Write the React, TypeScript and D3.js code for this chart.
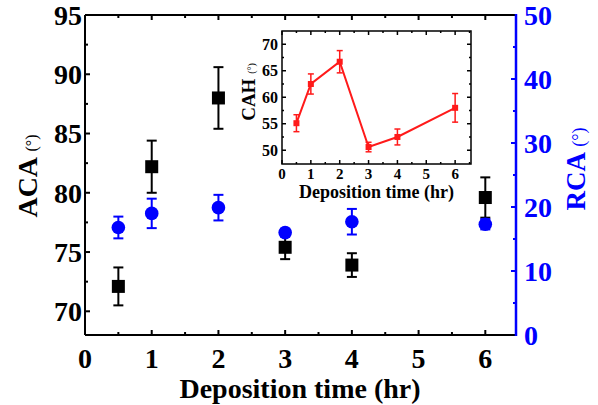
import React from "react";
import * as d3 from "d3";

const times = [0.5, 1, 2, 3, 4, 6];
const aca = [72.1, 82.2, 88.0, 75.4, 73.9, 79.6];
const acaErr = [1.6, 2.2, 2.6, 1.0, 1.0, 1.7];
const rca = [16.8, 19.0, 19.9, 16.0, 17.7, 17.3];
const rcaErr = [1.7, 2.3, 2.0, 0.6, 2.0, 0.8];
const cah = [55.1, 62.5, 66.7, 50.6, 52.5, 58.0];
const cahErr = [1.6, 1.9, 2.1, 0.9, 1.5, 2.7];

const xTicks = [0, 1, 2, 3, 4, 5, 6];
const acaTicks = [70, 75, 80, 85, 90, 95];
const rcaTicks = [0, 10, 20, 30, 40, 50];
const cahTicks = [50, 55, 60, 65, 70];

const FONT = "'Liberation Serif', 'Times New Roman', serif";
const BLUE = "#0000ff";
const RED = "#ff1a1a";

export default function App() {
  const W = 598, H = 405;
  const L = 85, R = 516, T = 15, B = 335;
  const x = d3.scaleLinear().domain([0, 6.46]).range([L, R]);
  const yL = d3.scaleLinear().domain([68, 95]).range([B, T]);
  const yR = d3.scaleLinear().domain([0, 50]).range([B, T]);

  const iL = 282, iR = 471, iT = 31, iB = 164;
  const ix = d3.scaleLinear().domain([0, 6.55]).range([iL, iR]);
  const iy = d3.scaleLinear().domain([47.4, 72.5]).range([iB, iT]);

  const xMinor = d3.range(0.5, 6.46, 1);
  const acaMinor = d3.range(72.5, 95, 5);
  const rcaMinor = d3.range(5, 50, 10);
  const cahMinor = d3.range(52.5, 72.5, 5);
  const ixMinor = d3.range(0.5, 6.55, 1);

  const line = d3
    .line<number>()
    .x((_, i) => ix(times[i]))
    .y((d) => iy(d));

  return (
    <svg
      width={W}
      height={H}
      style={{ position: "absolute", left: 0, top: 0, background: "#fff" }}
      fontFamily={FONT}
    >
      <rect x={0} y={0} width={W} height={H} fill="#fff" />
      {/* main x ticks bottom & top */}
      {xTicks.map((t) => (
        <g key={"xt" + t}>
          <line x1={x(t)} x2={x(t)} y1={B} y2={B - 5} stroke="#000" strokeWidth={2} />
          <line x1={x(t)} x2={x(t)} y1={T} y2={T + 5} stroke="#000" strokeWidth={2} />
          <text x={x(t)} y={368} textAnchor="middle" fontSize={28} fontWeight="bold">
            {t}
          </text>
        </g>
      ))}
      {xMinor.map((t) => (
        <g key={"xm" + t}>
          <line x1={x(t)} x2={x(t)} y1={B} y2={B - 3} stroke="#000" strokeWidth={2} />
          <line x1={x(t)} x2={x(t)} y1={T} y2={T + 3} stroke="#000" strokeWidth={2} />
        </g>
      ))}
      {/* left ticks */}
      {acaTicks.map((t) => (
        <g key={"yl" + t}>
          <line x1={L} x2={L + 5} y1={yL(t)} y2={yL(t)} stroke="#000" strokeWidth={2} />
          <text x={82} y={yL(t)} dy="0.35em" textAnchor="end" fontSize={28} fontWeight="bold">
            {t}
          </text>
        </g>
      ))}
      {acaMinor.map((t) => (
        <line key={"ylm" + t} x1={L} x2={L + 3} y1={yL(t)} y2={yL(t)} stroke="#000" strokeWidth={2} />
      ))}
      {/* right ticks */}
      {rcaTicks.map((t) => (
        <g key={"yr" + t}>
          <line x1={R} x2={R - 5} y1={yR(t)} y2={yR(t)} stroke={BLUE} strokeWidth={2} />
          <text x={524} y={yR(t)} dy="0.35em" textAnchor="start" fontSize={28} fontWeight="bold" fill={BLUE}>
            {t}
          </text>
        </g>
      ))}
      {rcaMinor.map((t) => (
        <line key={"yrm" + t} x1={R} x2={R - 3} y1={yR(t)} y2={yR(t)} stroke={BLUE} strokeWidth={2} />
      ))}
      {/* frame */}
      <line x1={L} x2={R} y1={B} y2={B} stroke="#000" strokeWidth={2} />
      <line x1={L} x2={R} y1={T} y2={T} stroke="#000" strokeWidth={2} />
      <line x1={L} x2={L} y1={T} y2={B} stroke="#000" strokeWidth={2} />
      <line x1={R} x2={R} y1={T - 1} y2={B + 1} stroke={BLUE} strokeWidth={2.5} />

      {/* axis titles */}
      <text x={300} y={398} textAnchor="middle" fontSize={28} fontWeight="bold">
        Deposition time (hr)
      </text>
      <text transform="translate(37,176) rotate(-90)" textAnchor="middle">
        <tspan fontSize={28} fontWeight="bold">ACA </tspan>
        <tspan fontSize={16}>(°)</tspan>
      </text>
      <text transform="translate(585,169) rotate(-90)" textAnchor="middle" fill={BLUE}>
        <tspan fontSize={27} fontWeight="bold">RCA </tspan>
        <tspan fontSize={18}>(°)</tspan>
      </text>

      {/* ACA series */}
      {times.map((t, i) => (
        <g key={"aca" + i} stroke="#000" strokeWidth={2}>
          <line x1={x(t)} x2={x(t)} y1={yL(aca[i] - acaErr[i])} y2={yL(aca[i] + acaErr[i])} />
          <line x1={x(t) - 5} x2={x(t) + 5} y1={yL(aca[i] + acaErr[i])} y2={yL(aca[i] + acaErr[i])} />
          <line x1={x(t) - 5} x2={x(t) + 5} y1={yL(aca[i] - acaErr[i])} y2={yL(aca[i] - acaErr[i])} />
          <rect x={x(t) - 6.5} y={yL(aca[i]) - 6.5} width={13} height={13} fill="#000" stroke="none" />
        </g>
      ))}
      {/* RCA series */}
      {times.map((t, i) => (
        <g key={"rca" + i} stroke={BLUE} strokeWidth={2}>
          <line x1={x(t)} x2={x(t)} y1={yR(rca[i] - rcaErr[i])} y2={yR(rca[i] + rcaErr[i])} />
          <line x1={x(t) - 5} x2={x(t) + 5} y1={yR(rca[i] + rcaErr[i])} y2={yR(rca[i] + rcaErr[i])} />
          <line x1={x(t) - 5} x2={x(t) + 5} y1={yR(rca[i] - rcaErr[i])} y2={yR(rca[i] - rcaErr[i])} />
          <circle cx={x(t)} cy={yR(rca[i])} r={6.8} fill={BLUE} stroke="none" />
        </g>
      ))}

      {/* inset */}
      <rect x={iL} y={iT} width={iR - iL} height={iB - iT} fill="#fff" stroke="none" />
      {xTicks.map((t) => (
        <g key={"ixt" + t}>
          <line x1={ix(t)} x2={ix(t)} y1={iB} y2={iB - 4} stroke="#000" strokeWidth={1.5} />
          <line x1={ix(t)} x2={ix(t)} y1={iT} y2={iT + 4} stroke="#000" strokeWidth={1.5} />
          <text x={ix(t)} y={179} textAnchor="middle" fontSize={15} fontWeight="bold">
            {t}
          </text>
        </g>
      ))}
      {ixMinor.map((t) => (
        <g key={"ixm" + t}>
          <line x1={ix(t)} x2={ix(t)} y1={iB} y2={iB - 2} stroke="#000" strokeWidth={1.5} />
          <line x1={ix(t)} x2={ix(t)} y1={iT} y2={iT + 2} stroke="#000" strokeWidth={1.5} />
        </g>
      ))}
      {cahTicks.map((t) => (
        <g key={"iyt" + t}>
          <line x1={iL} x2={iL + 4} y1={iy(t)} y2={iy(t)} stroke="#000" strokeWidth={1.5} />
          <line x1={iR} x2={iR - 4} y1={iy(t)} y2={iy(t)} stroke="#000" strokeWidth={1.5} />
          <text x={278} y={iy(t)} dy="0.35em" textAnchor="end" fontSize={16} fontWeight="bold">
            {t}
          </text>
        </g>
      ))}
      {cahMinor.map((t) => (
        <g key={"iym" + t}>
          <line x1={iL} x2={iL + 2} y1={iy(t)} y2={iy(t)} stroke="#000" strokeWidth={1.5} />
          <line x1={iR} x2={iR - 2} y1={iy(t)} y2={iy(t)} stroke="#000" strokeWidth={1.5} />
        </g>
      ))}
      <rect x={iL} y={iT} width={iR - iL} height={iB - iT} fill="none" stroke="#000" strokeWidth={1.5} />
      <text x={(iL + iR) / 2} y={197.5} textAnchor="middle" fontSize={18} fontWeight="bold">
        Deposition time (hr)
      </text>
      <text transform="translate(255,92) rotate(-90)" textAnchor="middle">
        <tspan fontSize={19} fontWeight="bold">CAH </tspan>
        <tspan fontSize={10}>(°)</tspan>
      </text>
      <path d={line(cah) || ""} fill="none" stroke={RED} strokeWidth={2} />
      {times.map((t, i) => (
        <g key={"cah" + i} stroke={RED} strokeWidth={1.5}>
          <line x1={ix(t)} x2={ix(t)} y1={iy(cah[i] - cahErr[i])} y2={iy(cah[i] + cahErr[i])} />
          <line x1={ix(t) - 3} x2={ix(t) + 3} y1={iy(cah[i] + cahErr[i])} y2={iy(cah[i] + cahErr[i])} />
          <line x1={ix(t) - 3} x2={ix(t) + 3} y1={iy(cah[i] - cahErr[i])} y2={iy(cah[i] - cahErr[i])} />
          <rect x={ix(t) - 3} y={iy(cah[i]) - 3} width={6} height={6} fill={RED} stroke="none" />
        </g>
      ))}
    </svg>
  );
}
